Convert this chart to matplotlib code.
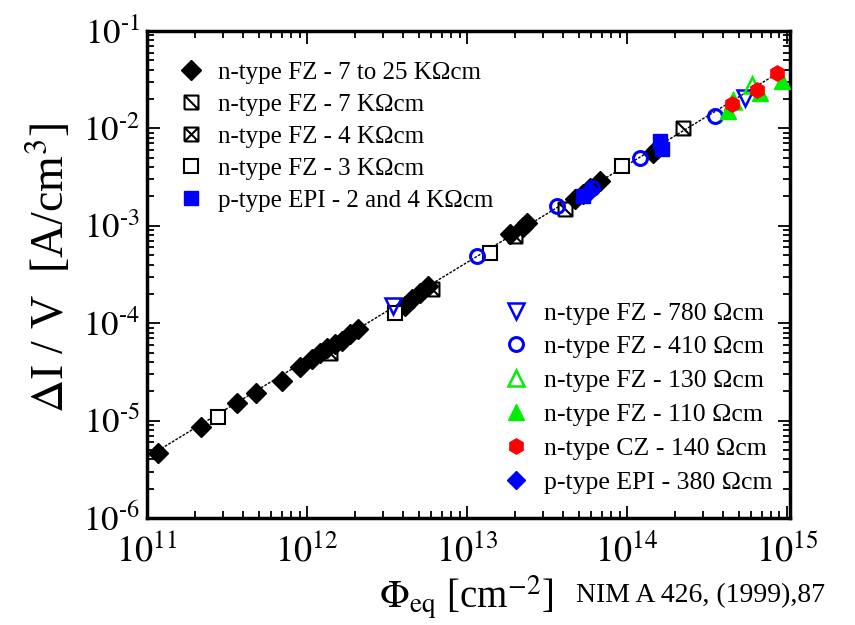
import numpy as np
import matplotlib
matplotlib.use("Agg")
import matplotlib.pyplot as plt
from matplotlib.path import Path
from matplotlib.ticker import LogLocator, NullFormatter, FixedLocator, FixedFormatter

plt.rcParams['font.family'] = ['Liberation Serif', 'DejaVu Serif']
plt.rcParams['mathtext.fontset'] = 'stix'

# ---------------- data (fluence [cm^-2], dI/V [A/cm^3]) ----------------
fz_7to25k_x = [1.17e11, 2.18e11, 3.65e11, 4.8e11, 6.98e11, 9.04e11, 1.07e12, 1.2e12, 1.33e12,
               1.5e12, 1.65e12, 1.86e12, 2.08e12, 4.1e12, 4.53e12, 5.08e12, 5.7e12, 1.86e13,
               2.24e13, 2.37e13, 4.73e13, 5.31e13, 5.87e13, 6.78e13, 1.45e14, 1.54e14]
fz_7to25k_y = [4.7e-6, 8.5e-6, 1.53e-5, 1.94e-5, 2.57e-5, 3.58e-5, 4.33e-5, 4.98e-5, 5.61e-5,
               6.16e-5, 6.62e-5, 7.8e-5, 8.8e-5, 1.51e-4, 1.78e-4, 2.05e-4, 2.43e-4, 8.28e-4,
               9.77e-4, 1.07e-3, 1.89e-3, 2.13e-3, 2.45e-3, 2.9e-3, 5.61e-3, 6.17e-3]

fz_7k_x = [6.04e12, 4.1e13, 2.24e14]
fz_7k_y = [2.26e-4, 1.49e-3, 1.01e-2]

fz_4k_x = [1.39e12, 2.0e13]
fz_4k_y = [4.98e-5, 7.89e-4]

fz_3k_x = [2.78e11, 3.55e12, 1.39e13, 9.31e13]
fz_3k_y = [1.1e-5, 1.28e-4, 5.28e-4, 4.12e-3]

epi_2_4k_x = [5.31e13, 1.61e14, 1.66e14]
epi_2_4k_y = [2.03e-3, 7.45e-3, 6.17e-3]

fz_780_x = [3.45e12, 5.47e14]
fz_780_y = [1.51e-4, 2.06e-2]

fz_410_x = [1.15e13, 3.65e13, 6.04e13, 1.2e14, 3.55e14]
fz_410_y = [4.92e-4, 1.6e-3, 2.45e-3, 4.98e-3, 1.34e-2]

fz_130_x = [4.6e14, 6.04e14]
fz_130_y = [1.9e-2, 2.79e-2]

fz_110_x = [4.28e14, 6.78e14, 9.31e14]
fz_110_y = [1.51e-2, 2.31e-2, 3.07e-2]

cz_140_x = [4.53e14, 6.49e14, 8.66e14]
cz_140_y = [1.78e-2, 2.48e-2, 3.7e-2]

epi_380_x = [5.87e13]
epi_380_y = [2.29e-3]

alpha = 4.2e-17          # damage parameter of the fitted line [A/cm]
fit_x = [1.0e11, 9.6e14]

yticks = [1e-6, 1e-5, 1e-4, 1e-3, 1e-2, 1e-1]
ylabels = [r'$10^{\text{-}6}$', r'$10^{\text{-}5}$', r'$10^{\text{-}4}$',
           r'$10^{\text{-}3}$', r'$10^{\text{-}2}$', r'$10^{\text{-}1}$']
xticks = [1e11, 1e12, 1e13, 1e14, 1e15]
xlabels = [r'$10^{11}$', r'$10^{12}$', r'$10^{13}$', r'$10^{14}$', r'$10^{15}$']

# ---------------- custom markers ----------------
C = Path.MOVETO; L = Path.LINETO
sq_diag = Path([(-1, -1), (1, -1), (1, 1), (-1, 1), (-1, -1), (-1, 1), (1, -1)],
               [C, L, L, L, L, C, L])
sq_x = Path([(-1, -1), (1, -1), (1, 1), (-1, 1), (-1, -1), (-1, 1), (1, -1), (-1, -1), (1, 1)],
            [C, L, L, L, L, C, L, C, L])

fig = plt.figure(figsize=(8.55, 6.25), dpi=100)
ax = fig.add_axes([147/855, 1-518/625, (790-147)/855, (518-31)/625])

fx = np.array(fit_x)
ax.plot(fx, alpha*fx, color='black', lw=1.0, ls=(0, (2, 1)), zorder=1)

h = {}
h['a'], = ax.plot(fz_7to25k_x, fz_7to25k_y, ls='none', marker='D', ms=10, mfc='black', mec='black', zorder=3)
h['b'], = ax.plot(fz_7k_x, fz_7k_y, ls='none', marker=sq_diag, ms=10, mfc='none', mec='black', mew=1.5, zorder=4)
h['c'], = ax.plot(fz_4k_x, fz_4k_y, ls='none', marker=sq_x, ms=10, mfc='none', mec='black', mew=1.5, zorder=4)
h['d'], = ax.plot(fz_3k_x, fz_3k_y, ls='none', marker='s', ms=10, mfc='white', mec='black', mew=1.5, zorder=4)
h['e'], = ax.plot(epi_2_4k_x, epi_2_4k_y, ls='none', marker='s', ms=10, mfc='blue', mec='blue', zorder=4)
h['f'], = ax.plot(fz_780_x, fz_780_y, ls='none', marker='v', ms=11, mfc='none', mec='blue', mew=1.8, zorder=4)
h['g'], = ax.plot(fz_410_x, fz_410_y, ls='none', marker='o', ms=10, mfc='none', mec='blue', mew=2.2, zorder=4)
h['h'], = ax.plot(fz_130_x, fz_130_y, ls='none', marker='^', ms=11, mfc='none', mec='#00ee00', mew=1.8, zorder=4)
h['i'], = ax.plot(fz_110_x, fz_110_y, ls='none', marker='^', ms=11, mfc='#00ee00', mec='#00ee00', zorder=4)
h['j'], = ax.plot(cz_140_x, cz_140_y, ls='none', marker='h', ms=11, mfc='red', mec='red', zorder=5)
h['k'], = ax.plot(epi_380_x, epi_380_y, ls='none', marker='D', ms=9, mfc='blue', mec='blue', zorder=4)

ax.set_xscale('log'); ax.set_yscale('log')
ax.set_xlim(1e11, 10**15.02)
ax.set_ylim(1e-6, 1e-1)

for s in ax.spines.values():
    s.set_linewidth(2.5)
ax.tick_params(which='both', direction='in', top=True, right=True, width=1.3)
ax.tick_params(which='major', length=9)
ax.tick_params(which='minor', length=5)
ax.xaxis.set_minor_locator(LogLocator(base=10, subs=np.arange(2, 10), numticks=20))
ax.yaxis.set_minor_locator(LogLocator(base=10, subs=np.arange(2, 10), numticks=20))
ax.xaxis.set_major_locator(FixedLocator(xticks))
ax.xaxis.set_major_formatter(FixedFormatter(xlabels))
ax.yaxis.set_major_locator(FixedLocator(yticks))
ax.yaxis.set_major_formatter(FixedFormatter(ylabels))
ax.xaxis.set_minor_formatter(NullFormatter())
ax.yaxis.set_minor_formatter(NullFormatter())
ax.tick_params(axis='x', labelsize=26, pad=11)
ax.tick_params(axis='y', labelsize=25, pad=5)

fig.text(0.058, 1-268/625, r'$\Delta$I / V  [A/cm$^3$]', rotation=90, fontsize=33,
         ha='center', va='center')
fig.text(0.545, 1-598/625, r'$\Phi_{\rm eq}$ [cm$^{-2}$]', fontsize=28, ha='center', va='center')
fig.text(0.674, 1-596/625, 'NIM A 426, (1999),87', fontsize=20, ha='left', va='center')

leg1 = ax.legend([h['a'], h['b'], h['c'], h['d'], h['e']],
                 ['n-type FZ - 7 to 25 KΩcm', 'n-type FZ - 7 KΩcm', 'n-type FZ - 4 KΩcm',
                  'n-type FZ - 3 KΩcm', 'p-type EPI - 2 and 4 KΩcm'],
                 loc='upper left', bbox_to_anchor=(0.1967, 0.9174), bbox_transform=fig.transFigure,
                 frameon=False, fontsize=18,
                 handlelength=1.0, handletextpad=0.6, labelspacing=0.38, borderaxespad=0)
ax.add_artist(leg1)
ax.legend([h['f'], h['g'], h['h'], h['i'], h['j'], h['k']],
          ['n-type FZ - 780 Ωcm', 'n-type FZ - 410 Ωcm', 'n-type FZ - 130 Ωcm',
           'n-type FZ - 110 Ωcm', 'n-type CZ - 140 Ωcm', 'p-type EPI - 380 Ωcm'],
          loc='upper left', bbox_to_anchor=(0.576, 0.5338), bbox_transform=fig.transFigure,
          frameon=False, fontsize=18.5,
          handlelength=1.0, handletextpad=0.6, labelspacing=0.42, borderaxespad=0)

fig.savefig('out.png', dpi=100)
